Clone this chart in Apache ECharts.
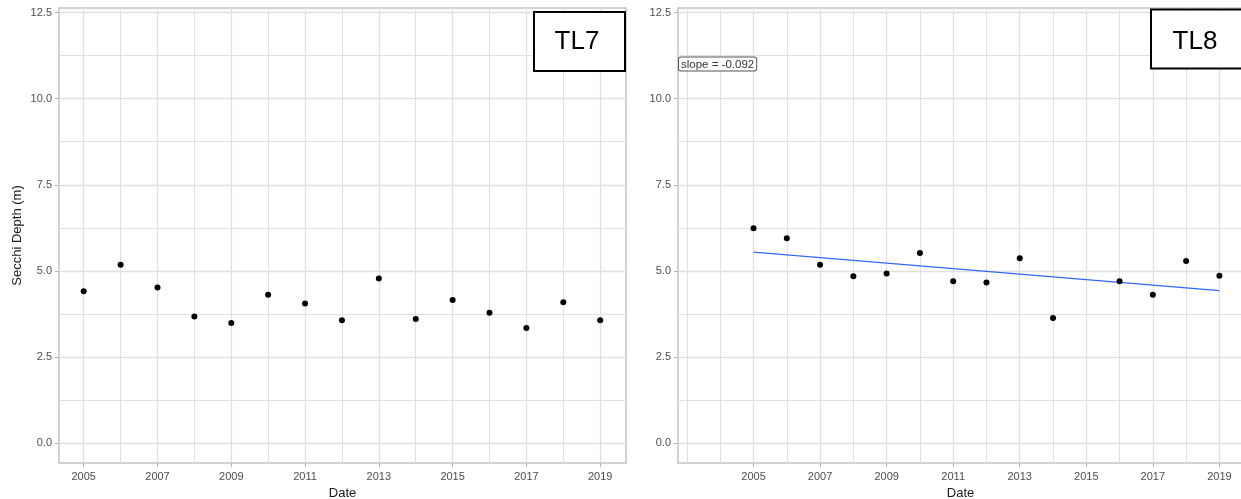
<!DOCTYPE html>
<html>
<head>
<meta charset="utf-8">
<script src="https://cdn.jsdelivr.net/npm/echarts@6/dist/echarts.min.js"></script>
<style>
html,body{margin:0;padding:0;background:#fff;}
#chart{width:1241px;height:499px;}
</style>
</head>
<body>
<div id="chart"></div>
<script>
// ---- data ----
const yearsTL7 = [2005,2006,2007,2008,2009,2010,2011,2012,2013,2014,2015,2016,2017,2018,2019];
const secchiTL7 = [4.41,5.18,4.52,3.68,3.49,4.31,4.06,3.57,4.78,3.61,4.16,3.79,3.35,4.09,3.57];
const yearsTL8 = [2005,2006,2007,2008,2009,2010,2011,2012,2013,2014,2016,2017,2018,2019];
const secchiTL8 = [6.24,5.95,5.18,4.85,4.93,5.52,4.70,4.67,5.37,3.64,4.70,4.31,5.29,4.86];
const trendYearsTL8 = [2005, 2019];
const trendValuesTL8 = [5.55, 4.43];
const xMajorTicks = [2005,2007,2009,2011,2013,2015,2017,2019];
const xMinorTL7 = [2006,2008,2010,2012,2014,2016,2018];
const xMinorTL8 = [2003,2004,2006,2008,2010,2012,2014,2016,2018];
const yMajorTicks = [0,2.5,5,7.5,10,12.5];
const yMinorTicks = [1.25,3.75,6.25,8.75,11.25];
const panelNames = ['TL7','TL8'];
const slopeText = 'slope = -0.092';
const xTitle = 'Date';
const yTitle = 'Secchi Depth (m)';

const FONT = '"Liberation Sans", Arial, sans-serif';
const GRID_COLOR = '#e0e0e0';
const TEXT_GREY = '#4d4d4d';

function zip(xs, ys){ return xs.map((x,i)=>[x, ys[i]]); }

function majorX(grid, min, max, namePad){
  return {
    type:'value', gridIndex:grid, min:min, max:max, position:'bottom',
    axisLine:{show:false, onZero:false},
    axisTick:{show:true, customValues:xMajorTicks, length:4, lineStyle:{color:'#b3b3b3', width:1}},
    axisLabel:{show:true, customValues:xMajorTicks, color:TEXT_GREY, fontSize:11, fontFamily:FONT, margin:8,
      formatter:v=>String(v)},
    splitLine:{show:true, lineStyle:{color:GRID_COLOR, width:1.3}},
    name:xTitle, nameLocation:'middle', nameGap:24,
    nameTextStyle:{color:'#1a1a1a', fontSize:13, fontFamily:FONT, padding:[0, namePad, 0, 0]}
  };
}
function minorX(grid, min, max, vals){
  return {
    type:'value', gridIndex:grid, min:min, max:max, position:'top',
    axisLine:{show:false, onZero:false},
    axisTick:{show:false, customValues:vals},
    axisLabel:{show:false},
    splitLine:{show:true, lineStyle:{color:GRID_COLOR, width:1}}
  };
}
function majorY(grid, withName){
  return {
    type:'value', gridIndex:grid, min:-0.57, max:12.63, position:'left',
    axisLine:{show:false, onZero:false},
    axisTick:{show:true, customValues:yMajorTicks, length:4, lineStyle:{color:'#b3b3b3', width:1}},
    axisLabel:{show:true, customValues:yMajorTicks, color:TEXT_GREY, fontSize:11, fontFamily:FONT, margin:7,
      formatter:v=>Number(v).toFixed(1)},
    splitLine:{show:true, lineStyle:{color:GRID_COLOR, width:1.3}},
    name: withName ? yTitle : '', nameLocation:'middle', nameGap:35,
    nameTextStyle:{color:'#1a1a1a', fontSize:13, fontFamily:FONT}
  };
}
function minorY(grid){
  return {
    type:'value', gridIndex:grid, min:-0.57, max:12.63, position:'right',
    axisLine:{show:false, onZero:false},
    axisTick:{show:false, customValues:yMinorTicks},
    axisLabel:{show:false},
    splitLine:{show:true, lineStyle:{color:GRID_COLOR, width:1}}
  };
}

const chart = echarts.init(document.getElementById('chart'), null, {renderer:'canvas'});
const option = {
  animation:false,
  backgroundColor:'#ffffff',
  grid:[
    {left:59, top:8, width:567, height:455, show:true, borderColor:'#c4c4c4', borderWidth:1.5,
      backgroundColor:'transparent', outerBoundsMode:'none', containLabel:false},
    {left:678, top:8, width:570, height:455, show:true, borderColor:'#c4c4c4', borderWidth:1.5,
      backgroundColor:'transparent', outerBoundsMode:'none', containLabel:false}
  ],
  xAxis:[
    majorX(0, 2004.33, 2019.7, 0),
    minorX(0, 2004.33, 2019.7, xMinorTL7),
    majorX(1, 2002.73, 2019.86, 5),
    minorX(1, 2002.73, 2019.86, xMinorTL8)
  ],
  yAxis:[
    majorY(0, true),
    minorY(0),
    majorY(1, false),
    minorY(1)
  ],
  series:[
    {type:'scatter', xAxisIndex:0, yAxisIndex:0, data:zip(yearsTL7, secchiTL7), symbolSize:6,
      itemStyle:{color:'#000000', opacity:1}},
    {type:'line', xAxisIndex:2, yAxisIndex:2, data:zip(trendYearsTL8, trendValuesTL8), showSymbol:false,
      symbol:'none', lineStyle:{color:'#3366FF', width:1.2}, z:2},
    {type:'scatter', xAxisIndex:2, yAxisIndex:2, data:zip(yearsTL8, secchiTL8), symbolSize:6,
      itemStyle:{color:'#000000', opacity:1}, z:3}
  ],
  graphic:[
    {type:'rect', z:100, shape:{x:534, y:12, width:91, height:59},
      style:{fill:'#ffffff', stroke:'#000000', lineWidth:2}},
    {type:'text', z:101, x:577, y:42,
      style:{text:panelNames[0], fill:'#000000', font:'26px ' + FONT, align:'center', verticalAlign:'middle'}},
    {type:'rect', z:100, shape:{x:1151, y:9.5, width:120, height:59},
      style:{fill:'#ffffff', stroke:'#000000', lineWidth:2}},
    {type:'text', z:101, x:1195, y:41.5,
      style:{text:panelNames[1], fill:'#000000', font:'26px ' + FONT, align:'center', verticalAlign:'middle'}},
    {type:'text', z:100, x:679, y:57.5,
      style:{text:slopeText, fill:'#333333', font:'11.5px ' + FONT, align:'left', verticalAlign:'top',
        backgroundColor:'#ffffff', borderColor:'#555555', borderWidth:1, borderRadius:2, padding:[1,2,0,2], lineHeight:12}}
  ]
};
chart.setOption(option);
</script>
</body>
</html>
